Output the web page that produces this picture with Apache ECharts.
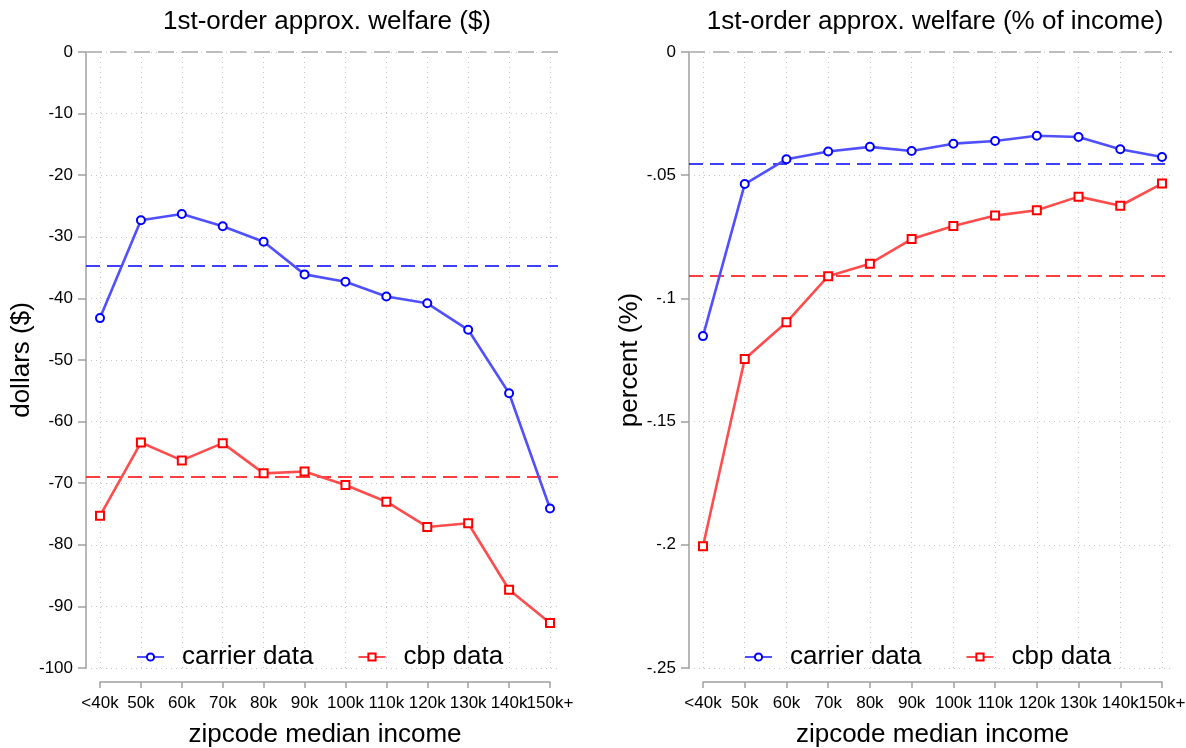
<!DOCTYPE html>
<html><head><meta charset="utf-8">
<script src="https://cdn.jsdelivr.net/npm/echarts@6/dist/echarts.min.js"></script>
<style>html,body{margin:0;padding:0;background:#fff}#c{width:1186px;height:748px}</style>
</head><body><div id="c"></div>
<script>
const categories = ['<40k','50k','60k','70k','80k','90k','100k','110k','120k','130k','140k','150k+'];
const carrierDollars = [-43.2,-27.3,-26.3,-28.3,-30.8,-36.1,-37.3,-39.7,-40.8,-45.1,-55.4,-74.1];
const cbpDollars = [-75.3,-63.4,-66.3,-63.5,-68.4,-68.1,-70.3,-73.0,-77.1,-76.5,-87.3,-92.7];
const carrierPct = [-0.1153,-0.0536,-0.0435,-0.0404,-0.0385,-0.0402,-0.0372,-0.0361,-0.0340,-0.0345,-0.0395,-0.0426];
const cbpPct = [-0.2006,-0.1246,-0.1097,-0.0910,-0.0859,-0.0759,-0.0706,-0.0664,-0.0642,-0.0587,-0.0624,-0.0534];
const meanDollars = [-34.7, -69.0];   // carrier, cbp
const meanPct = [-0.0455, -0.0908];    // carrier, cbp

const FONT = '"Liberation Sans", Arial, Helvetica, sans-serif';
const BLUE = '#0000ff', BLUE_L = '#5050ff', RED = '#ff0000', RED_L = '#ff4d4d';
const GRIDC = '#c8c8c8';
const chart = echarts.init(document.getElementById('c'));

function wideY(min, max, interval, name, nameGap, fmt) {
  return {
    type: 'value', min, max, interval, name, nameLocation: 'middle', nameGap,
    nameTextStyle: {fontSize: 26, color: '#000', fontFamily: FONT},
    axisLine: {show: true, lineStyle: {color: '#a0a0a0', width: 1.5}},
    axisTick: {show: true, length: 8, lineStyle: {color: '#a0a0a0', width: 1.5}},
    axisLabel: {fontSize: 17, color: '#000', fontFamily: FONT, margin: 13, formatter: fmt},
    splitLine: {show: true, lineStyle: {color: GRIDC, type: [1, 4], width: 1}}
  };
}
function narrowY(min, max, interval) {
  return {type: 'value', min, max, interval, show: false, splitLine: {show: false}};
}
function catX(gridIndex) {
  return {
    type: 'category', gridIndex, data: categories, boundaryGap: false, position: 'bottom', offset: 14,
    name: 'zipcode median income', nameLocation: 'middle', nameGap: 40,
    nameTextStyle: {fontSize: 26, color: '#000', fontFamily: FONT},
    axisLine: {show: true, onZero: false, lineStyle: {color: '#a0a0a0', width: 1.5}},
    axisTick: {show: true, length: 6, alignWithLabel: true, interval: 0, lineStyle: {color: '#a0a0a0', width: 1.5}},
    axisLabel: {fontSize: 17, color: '#000', fontFamily: FONT, margin: 13, interval: 0, hideOverlap: false},
    splitLine: {show: true, interval: 0, lineStyle: {color: GRIDC, type: [1, 4], width: 1}}
  };
}
function meanSeries(xi, yi, means) {
  return {
    type: 'line', xAxisIndex: xi, yAxisIndex: yi, data: [], silent: true, z: 3,
    markLine: {
      silent: true, symbol: 'none', label: {show: false}, animation: false, precision: 6,
      data: [
        {yAxis: 0, lineStyle: {color: '#bdbdbd', type: [16, 8], width: 2}},
        {yAxis: means[0], lineStyle: {color: BLUE, type: [14, 7], width: 1.5}},
        {yAxis: means[1], lineStyle: {color: RED, type: [14, 7], width: 1.5}}
      ]
    }
  };
}
function dataSeries(name, xi, yi, vals, isBlue) {
  return {
    name, type: 'line', xAxisIndex: xi, yAxisIndex: yi, data: vals,
    symbol: isBlue ? 'emptyCircle' : 'emptyRect', symbolSize: 8,
    itemStyle: {color: isBlue ? BLUE : RED, borderWidth: 2, borderColor: isBlue ? BLUE : RED},
    lineStyle: {color: isBlue ? BLUE_L : RED_L, width: 2.6},
    z: 5, animation: false
  };
}
const pctFmt = v => { const r = Math.round(v * 100) / 100; if (r === 0) return '0'; return '-' + String(Math.abs(r)).replace(/^0/, ''); };

const legendBase = {itemGap: 44, itemWidth: 27, itemHeight: 9, data: ['carrier data', 'cbp data'],
  textStyle: {fontSize: 26, color: '#000', fontFamily: FONT, padding: [0, 0, 0, 13]}, selectedMode: false};
const gridBase = {top: 52, bottom: 80, outerBoundsMode: 'none', containLabel: false};

chart.setOption({
  animation: false,
  textStyle: {fontFamily: FONT},
  title: [
    {text: '1st-order approx. welfare ($)', left: 322, top: 4, textAlign: 'center',
     textStyle: {fontSize: 26, fontWeight: 'normal', color: '#000', fontFamily: FONT}},
    {text: '1st-order approx. welfare (% of income)', left: 930, top: 4, textAlign: 'center',
     textStyle: {fontSize: 26, fontWeight: 'normal', color: '#000', fontFamily: FONT}}
  ],
  legend: [
    Object.assign({left: 131, top: 639}, legendBase),
    Object.assign({left: 739, top: 639}, legendBase)
  ],
  grid: [
    Object.assign({left: 86, right: 1186 - 558}, gridBase),
    Object.assign({left: 100, right: 1186 - 550}, gridBase),
    Object.assign({left: 689, right: 1186 - 1172}, gridBase),
    Object.assign({left: 703, right: 1186 - 1162}, gridBase)
  ],
  xAxis: [
    {type: 'value', gridIndex: 0, min: 0, max: 1, show: false},
    catX(1),
    {type: 'value', gridIndex: 2, min: 0, max: 1, show: false},
    catX(3)
  ],
  yAxis: [
    Object.assign(wideY(-100, 0, 10, 'dollars ($)', 51, v => String(v)), {gridIndex: 0}),
    Object.assign(narrowY(-100, 0, 10), {gridIndex: 1}),
    Object.assign(wideY(-0.25, 0, 0.05, 'percent (%)', 44, pctFmt), {gridIndex: 2}),
    Object.assign(narrowY(-0.25, 0, 0.05), {gridIndex: 3})
  ],
  series: [
    meanSeries(0, 0, meanDollars),
    dataSeries('carrier data', 1, 1, carrierDollars, true),
    dataSeries('cbp data', 1, 1, cbpDollars, false),
    meanSeries(2, 2, meanPct),
    dataSeries('carrier data', 3, 3, carrierPct, true),
    dataSeries('cbp data', 3, 3, cbpPct, false)
  ]
});
</script></body></html>
